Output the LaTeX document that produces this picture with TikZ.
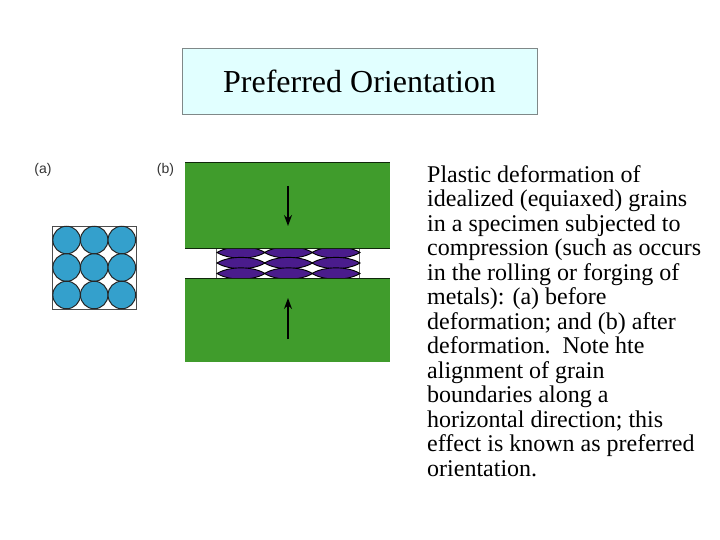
\documentclass[tikz,border=0pt]{standalone}
\usepackage{fontspec}
\usetikzlibrary{arrows.meta}
\setmainfont{Liberation Serif}
\newfontfamily\labelfont{Liberation Sans}
\definecolor{titlefill}{RGB}{225,255,255}
\definecolor{titleedge}{RGB}{128,136,136}
\definecolor{grainblue}{RGB}{52,160,204}
\definecolor{platen}{RGB}{64,156,44}
\definecolor{graindark}{RGB}{74,28,140}
\tikzset{
    grain/.style={circle,draw=black!85,fill=grainblue,line width=1pt,minimum size=27.5pt,inner sep=0pt},
    flatgrain/.style={draw=black,fill=graindark,line width=0.9pt},
    platenbox/.style={rectangle,fill=platen,minimum width=205pt,inner sep=0pt,outer sep=0pt},
    partlabel/.style={font=\labelfont\fontsize{14}{14}\selectfont,text=black!80,inner sep=0pt}
}
\begin{document}
\begin{tikzpicture}[x=1pt,y=-1pt]
    \useasboundingbox (0,0) rectangle (720,540);

    \node[draw=titleedge,fill=titlefill,line width=0.8pt,minimum width=355pt,minimum height=66pt,inner sep=0pt,
        font=\fontsize{32}{36}\selectfont] (title) at (359.5,81) {Preferred Orientation};

    \node[partlabel] (labela) at (43,170) {(a)};
    \node[partlabel] (labelb) at (165.5,170) {(b)};

    % grains before
    \node[draw=black!70,line width=0.8pt,minimum width=84pt,minimum height=83pt,inner sep=0pt] (before) at (94.3,267.5) {};
    \foreach \x in {1,2,3}
        \foreach \y in {1,2,3}
            \node[grain] (g\x\y) at (39+27.6*\x,212.5+27.5*\y) {};

    % grains after
    \draw[black!60,line width=0.6pt] (216.5,248) rectangle (359.5,278);
    \foreach \x in {241,288.5,336}
        \foreach \y in {252.5,263,273.5}
            \draw[flatgrain] (\x-24,\y) .. controls (\x-12,\y-7.5) and (\x+12,\y-7.5) .. (\x+24,\y)
                .. controls (\x+12,\y+7.5) and (\x-12,\y+7.5) .. cycle;

    \node[platenbox,minimum height=85.5pt,draw=none] (upper) at (287.5,205.5) {};
    \node[platenbox,minimum height=84pt,draw=none] (lower) at (287.5,320) {};
    \draw[black!75!platen,line width=1pt] (upper.north west) -- (upper.north east);
    \draw[black!75!platen,line width=0.8pt] (upper.south west) -- (upper.south east);
    \draw[black!75!platen,line width=0.8pt] (lower.north west) -- (lower.north east);

    \coordinate (uppertop) at (288,186);
    \coordinate (uppertip) at (288,226);
    \coordinate (lowerend) at (288,339);
    \coordinate (lowertip) at (288,298);
    \draw[-{Stealth[length=11pt,width=8pt]},line width=1.2pt] (uppertop) -- (uppertip);
    \draw[-{Stealth[length=11pt,width=8pt]},line width=1.2pt] (lowerend) -- (lowertip);

    \node[anchor=north west,align=left,inner sep=0pt,font=\fontsize{24}{24.5}\selectfont] (caption) at (427,165) {%
        Plastic deformation of\\
        idealized (equiaxed) grains\\
        in a specimen subjected to\\
        compression (such as occurs\\
        in the rolling or forging of\\
        metals): (a) before\\
        deformation; and (b) after\\
        deformation.\ \ Note hte\\
        alignment of grain\\
        boundaries along a\\
        horizontal direction; this\\
        effect is known as preferred\\
        orientation.};
\end{tikzpicture}
\end{document}
